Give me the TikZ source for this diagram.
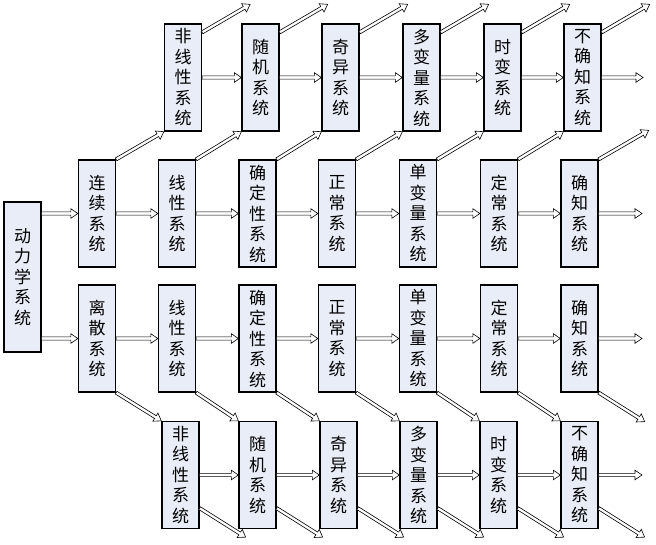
\documentclass[tikz,border=0pt]{standalone}
\usepackage{fontspec}
\newfontfamily\cjk{Noto Sans CJK SC}
\usetikzlibrary{calc}
\definecolor{boxfill}{RGB}{232,237,247}
\tikzset{
  sysbox/.style={draw=black, line width=1.3pt, fill=boxfill, minimum width=37pt,
    minimum height=107pt, inner sep=0pt, align=center,
    font=\cjk\fontsize{17}{20.5}\selectfont},
  tallbox/.style={sysbox, minimum height=150pt},
  blockarrow/.style={draw=black, line width=0.6pt, fill=white, line join=miter}
}
\newcommand\myarrow[2]{%
  \coordinate (tmpC) at ($(#2)!7pt!(#1)$);
  \draw[blockarrow] ($(#1)!1.6pt!90:(#2)$) -- ($(tmpC)!1.6pt!-90:(#1)$)
    -- ($(tmpC)!4.8pt!-90:(#1)$) -- (#2) -- ($(tmpC)!4.8pt!90:(#1)$)
    -- ($(tmpC)!1.6pt!90:(#1)$) -- ($(#1)!1.6pt!-90:(#2)$) -- cycle;
}
\begin{document}
\begin{tikzpicture}[x=1pt,y=-1pt]
\useasboundingbox (0,0) rectangle (656,544);
% left box
\node[tallbox] (L) at (22.5,277) {动\\力\\学\\系\\统};
% row 2 (continuous)
\foreach \x/\t [count=\i] in {97/{连\\续\\系\\统},177/{线\\性\\系\\统},257.5/{确\\定\\性\\系\\统},337/{正\\常\\系\\统},418/{单\\变\\量\\系\\统},499/{定\\常\\系\\统},579.5/{确\\知\\系\\统}}
  \node[sysbox] (a\i) at (\x,213.5) {\t};
% row 3 (discrete)
\foreach \x/\t [count=\i] in {97/{离\\散\\系\\统},177/{线\\性\\系\\统},257.5/{确\\定\\性\\系\\统},337/{正\\常\\系\\统},418/{单\\变\\量\\系\\统},499/{定\\常\\系\\统},579.5/{确\\知\\系\\统}}
  \node[sysbox] (b\i) at (\x,338.5) {\t};
% row 1 (top)
\foreach \x/\t [count=\i] in {183/{非\\线\\性\\系\\统},260.5/{随\\机\\系\\统},340.5/{奇\\异\\系\\统},421.5/{多\\变\\量\\系\\统},502.5/{时\\变\\系\\统},582.5/{不\\确\\知\\系\\统}}
  \node[sysbox] (t\i) at (\x,77.5) {\t};
% row 4 (bottom)
\foreach \x/\t [count=\i] in {180.5/{非\\线\\性\\系\\统},257.5/{随\\机\\系\\统},338.5/{奇\\异\\系\\统},418.5/{多\\变\\量\\系\\统},498.5/{时\\变\\系\\统},579.5/{不\\确\\知\\系\\统}}
  \node[sysbox] (d\i) at (\x,475) {\t};

% from left box
\coordinate (La) at (L.east |- a1.west);
\coordinate (Lb) at (L.east |- b1.west);
\myarrow{La}{a1.west}
\myarrow{Lb}{b1.west}

% horizontal arrows in rows 2 and 3
\foreach \i/\j in {1/2,2/3,3/4,4/5,5/6,6/7}{
  \myarrow{a\i.east}{a\j.west}
  \myarrow{b\i.east}{b\j.west}
}
\coordinate (af) at (642,213.5);
\coordinate (bf) at (642,338.5);
\myarrow{a7.east}{af}
\myarrow{b7.east}{bf}

% diagonal arrows rows 2 -> 1 and rows 3 -> 4
\foreach \i in {1,...,6}{
  \myarrow{a\i.north east}{t\i.south west}
  \myarrow{b\i.south east}{d\i.north west}
}
\coordinate (a7f) at ($(a7.north east)+(50,-29)$);
\coordinate (b7f) at ($(b7.south east)+(46,29)$);
\myarrow{a7.north east}{a7f}
\myarrow{b7.south east}{b7f}

% horizontal arrows rows 1 and 4
\foreach \i/\j in {1/2,2/3,3/4,4/5,5/6}{
  \myarrow{t\i.east}{t\j.west}
  \myarrow{d\i.east}{d\j.west}
}
\coordinate (tf) at (643,77.5);
\coordinate (df) at (642,475);
\myarrow{t6.east}{tf}
\myarrow{d6.east}{df}

% free diagonal arrows from rows 1 and 4
\foreach \i in {1,...,6}{
  \coordinate (to\i) at ([yshift=-9pt]t\i.north east);
  \coordinate (tu\i) at ($(to\i)+(48,-28)$);
  \myarrow{to\i}{tu\i}
  \coordinate (do\i) at ([yshift=21pt]d\i.south east);
  \coordinate (dd\i) at ($(do\i)+(46,29)$);
  \myarrow{do\i}{dd\i}
}
\end{tikzpicture}
\end{document}
